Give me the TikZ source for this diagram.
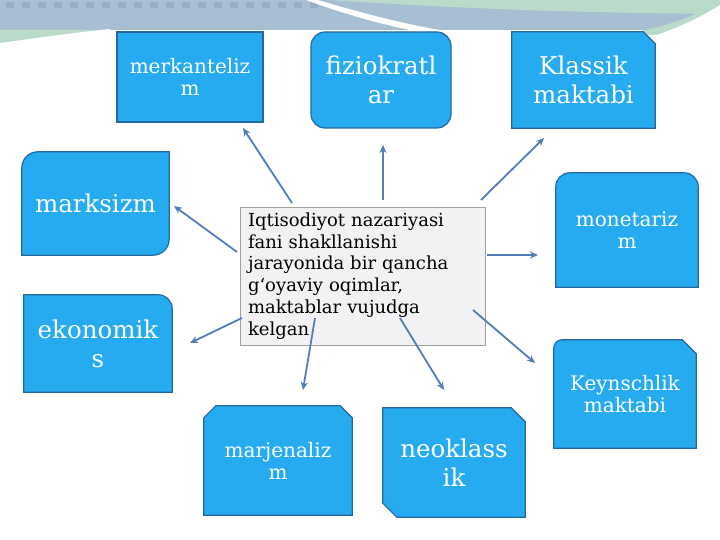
\documentclass[tikz,border=0pt]{standalone}
\usepackage{fontspec}
\setmainfont{DejaVu Serif}
\usetikzlibrary{arrows.meta,backgrounds}
\definecolor{boxblue}{RGB}{38,171,240}
\definecolor{boxedge}{RGB}{36,104,160}
\definecolor{arrowc}{RGB}{82,124,186}
\definecolor{bandc}{RGB}{168,190,211}
\definecolor{bandd}{RGB}{152,174,197}
\definecolor{greenc}{RGB}{186,218,202}
\definecolor{centfill}{RGB}{242,242,244}
\definecolor{centedge}{RGB}{160,160,160}
\tikzset{
  blk/.style={text=white, align=center, inner sep=0pt},
  big/.style={font=\fontsize{24.5}{29}\selectfont},
  small/.style={font=\fontsize{20}{22}\selectfont},
  shp/.style={fill=boxblue, draw=boxedge, line width=1.2pt},
  arr/.style={draw=arrowc, line width=1.8pt, -{Stealth[length=8pt,width=7pt]}},
}
\begin{document}
\begin{tikzpicture}[x=1pt,y=1pt]
\useasboundingbox (0,0) rectangle (720,540);

% boxes (text nodes)
\node[blk, small, shp, minimum width=146pt, minimum height=90pt] (merk) at (190,463) {merkanteliz\\m};
\node[blk, big, shp, rounded corners=14pt, minimum width=140pt, minimum height=96pt] (fizio) at (381,460) {fiziokratl\\ar};
\node[blk, big, minimum width=143pt, minimum height=96pt] (klass) at (583.5,460) {Klassik\\maktabi};
\node[blk, big, minimum width=147pt, minimum height=103pt] (marks) at (95.5,336.5) {marksizm};
\node[blk, small, minimum width=142pt, minimum height=114pt] (monet) at (627,310) {monetariz\\m};
\node[blk, big, minimum width=148pt, minimum height=97pt] (ekon) at (98,196.5) {ekonomik\\s};
\node[blk, small, minimum width=142pt, minimum height=108pt] (keyn) at (625,146) {Keynschlik\\maktabi};
\node[blk, small, minimum width=148pt, minimum height=109pt] (marj) at (278,79.5) {marjenaliz\\m};
\node[blk, big, minimum width=142pt, minimum height=109pt] (neo) at (454,77.5) {neoklass\\ik};

\begin{scope}[on background layer]
% page and header decoration
\fill[white] (0,0) rectangle (720,540);
\fill[bandc] (0,510) rectangle (720,540);
\fill[greenc] (330,540) -- (720,540) -- (720,526) .. controls (600,527) and (480,530) .. (330,540) -- cycle;
\foreach \i in {0,...,19} { \fill[bandd] (6+16*\i,532) rectangle (14+16*\i,538); }
\fill[white] (318,540) .. controls (365,526) and (420,511) .. (480,504) -- (480,499) .. controls (420,505) and (360,520) .. (306,540) -- cycle;
\fill[greenc] (0,510) -- (110,510) .. controls (70,506) and (30,500) .. (0,496) -- cycle;
\fill[white] (0,497) .. controls (30,501) and (70,507) .. (110,511) -- (110,508) .. controls (70,503) and (30,497) .. (0,493) -- cycle;
\fill[greenc] (615,505) .. controls (660,510) and (700,525) .. (720,540) -- (720,505) -- cycle;
\fill[white] (640,500) .. controls (670,508) and (700,522) .. (720,535) -- (720,500) -- cycle;
% box shapes
\path[shp] (klass.south west) -- (klass.north west) -- ([xshift=-12pt]klass.north east) -- ([yshift=-12pt]klass.north east) -- (klass.south east) -- cycle;
\path[shp] ([yshift=-16pt]marks.north west) arc[start angle=180,end angle=90,radius=16pt] -- (marks.north east) -- ([yshift=16pt]marks.south east) arc[start angle=0,end angle=-90,radius=16pt] -- (marks.south west) -- cycle;
\path[shp] (monet.south west) -- ([yshift=-14pt]monet.north west) arc[start angle=180,end angle=90,radius=14pt] -- ([xshift=-14pt]monet.north east) arc[start angle=90,end angle=0,radius=14pt] -- (monet.south east) -- cycle;
\path[shp] (ekon.south west) -- (ekon.north west) -- ([xshift=-14pt]ekon.north east) arc[start angle=90,end angle=0,radius=14pt] -- (ekon.south east) -- cycle;
\path[shp] (keyn.south west) -- ([yshift=-8pt]keyn.north west) arc[start angle=180,end angle=90,radius=8pt] -- ([xshift=-14pt]keyn.north east) -- ([yshift=-14pt]keyn.north east) -- (keyn.south east) -- cycle;
\path[shp] (marj.south west) -- ([yshift=-12pt]marj.north west) -- ([xshift=12pt]marj.north west) -- ([xshift=-12pt]marj.north east) -- ([yshift=-12pt]marj.north east) -- (marj.south east) -- cycle;
\path[shp] ([yshift=14pt]neo.south west) -- (neo.north west) -- ([xshift=-14pt]neo.north east) -- ([yshift=-14pt]neo.north east) -- (neo.south east) -- ([xshift=14pt]neo.south west) -- cycle;
\end{scope}

% central
\node[fill=centfill, draw=centedge, line width=0.8pt, text width=229pt, inner xsep=8pt, inner ysep=2pt, minimum width=245pt, minimum height=138pt, align=left, font=\fontsize{18}{21.8}\selectfont] (cent) at (362.5,264) {Iqtisodiyot nazariyasi\\fani shakllanishi\\jarayonida bir qancha\\g‘oyaviy oqimlar,\\maktablar vujudga\\kelgan};

% arrow coordinates
\coordinate (s1) at (292,337); \coordinate (e1) at (243,412);
\coordinate (s2) at (383,340); \coordinate (e2) at (383,395);
\coordinate (s3) at (481,340); \coordinate (e3) at (544,402);
\coordinate (s4) at (237,288); \coordinate (e4) at (174,334);
\coordinate (s5) at (487,285); \coordinate (e5) at (538,285);
\coordinate (s6) at (242,222); \coordinate (e6) at (190,197);
\coordinate (s7) at (473,230); \coordinate (e7) at (535,177);
\coordinate (s8) at (315,222); \coordinate (e8) at (303,150);
\coordinate (s9) at (400,222); \coordinate (e9) at (444,150);
\foreach \k in {1,...,9} { \draw[arr] (s\k) -- (e\k); }
\end{tikzpicture}
\end{document}
